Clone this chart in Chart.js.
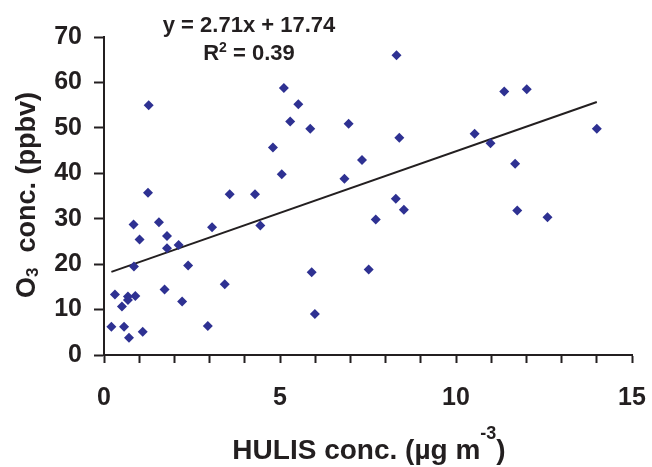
<!DOCTYPE html>
<html>
<head>
<meta charset="utf-8">
<script src="https://cdn.jsdelivr.net/npm/chart.js@4.4.0/dist/chart.umd.min.js"></script>
<style>
  body { margin: 0; background: #fff; }
  #wrap { width: 652px; height: 467px; }
</style>
</head>
<body>
<div id="wrap"><canvas id="ozoneChart" width="652" height="467"></canvas></div>
<script>
// HULIS (ug m-3) vs O3 (ppbv)
const hulis = [
    0.21, 0.31, 0.51, 0.57, 0.68, 0.68, 0.71, 0.84, 0.85, 0.89,
    1.01, 1.10, 1.27, 1.25, 1.56, 1.72, 1.79, 1.79, 2.12, 2.22,
    2.39, 2.95, 3.07, 3.43, 3.57, 4.29, 4.44, 4.80,
    5.11, 5.52, 5.29, 5.86, 5.05, 6.95, 7.33, 6.83, 8.31, 8.39,
    8.29, 8.52, 7.72, 5.90, 7.52, 5.99,
    10.53, 10.98, 11.37, 12.01, 11.68, 11.74, 12.60, 14.00
];
const ozone = [
    6.2, 13.3, 10.7, 6.2, 12.9, 12.1, 3.8, 28.7, 19.5, 13.0,
    25.4, 5.1, 55.0, 35.7, 29.2, 14.4, 26.2, 23.5, 24.2, 11.8,
    19.7, 6.4, 28.1, 15.6, 35.4, 35.4, 28.5, 45.7,
    58.8, 55.2, 51.4, 49.8, 39.8, 50.9, 42.9, 38.8, 66.0, 47.8,
    34.4, 32.0, 29.8, 18.2, 18.8, 9.0,
    48.7, 46.6, 58.0, 58.5, 42.1, 31.8, 30.3, 49.8
];

// fit given on the chart
const slope = 2.71;
const intercept = 17.74;
const rSquared = '0.39';

const xLabelTicks = [0, 5, 10, 15];
const yLabelTicks = [0, 10, 20, 30, 40, 50, 60, 70];

const FONT = "'Liberation Sans', Arial, Helvetica, sans-serif";
const INK = '#231f20';

const points = hulis.map((x, i) => ({ x: x, y: ozone[i] }));
const xMin = Math.min(...hulis);
const xMax = Math.max(...hulis);
const trend = [xMin, xMax].map(x => ({ x: x, y: slope * x + intercept }));

// draw a run of text pieces (with sub/superscripts) centred on x
function drawParts(ctx, parts, x, y) {
    let total = 0;
    parts.forEach(p => {
        ctx.font = `bold ${p.size}px ${FONT}`;
        p.w = ctx.measureText(p.text).width;
        total += p.w;
    });
    let cx = x - total / 2;
    ctx.textAlign = 'left';
    ctx.textBaseline = 'alphabetic';
    parts.forEach(p => {
        ctx.font = `bold ${p.size}px ${FONT}`;
        ctx.fillText(p.text, cx, y + (p.dy || 0));
        cx += p.w;
    });
}

const textPlugin = {
    id: 'texts',
    afterDraw(chart) {
        const ctx = chart.ctx;
        ctx.save();
        ctx.fillStyle = INK;

        drawParts(ctx, [{ text: `y = ${slope}x + ${intercept}`, size: 22 }], 249, 32);
        drawParts(ctx, [
            { text: 'R', size: 22 },
            { text: '2', size: 14, dy: -8 },
            { text: ` = ${rSquared}`, size: 22 }
        ], 249, 60);

        drawParts(ctx, [
            { text: 'HULIS conc. (µg m', size: 28 },
            { text: '-3', size: 18, dy: -20 },
            { text: ')', size: 28 }
        ], 369, 459);

        ctx.translate(35, 195);
        ctx.rotate(-Math.PI / 2);
        drawParts(ctx, [
            { text: 'O', size: 27 },
            { text: '3', size: 17, dy: 3 },
            { text: '  conc. (ppbv)', size: 27 }
        ], 0, 0);
        ctx.restore();
    }
};

new Chart(document.getElementById('ozoneChart'), {
    type: 'scatter',
    data: {
        datasets: [
            {
                label: 'trend',
                type: 'line',
                data: trend,
                borderColor: INK,
                borderWidth: 2,
                pointRadius: 0,
                fill: false,
                order: 1
            },
            {
                label: 'O3',
                data: points,
                pointStyle: 'rectRot',
                pointRadius: 5,
                pointHoverRadius: 5,
                backgroundColor: '#2e3192',
                borderColor: '#2e3192',
                borderWidth: 0,
                order: 0
            }
        ]
    },
    options: {
        responsive: false,
        animation: false,
        events: [],
        layout: {
            padding: { left: 0, right: 0, top: 37, bottom: 0 }
        },
        plugins: {
            legend: { display: false },
            tooltip: { enabled: false }
        },
        scales: {
            x: {
                type: 'linear',
                min: 0,
                max: 15,
                afterFit: s => {
                    s.height = 112;
                    s.paddingLeft = 0;
                    s.paddingRight = 20;
                },
                border: { color: INK, width: 2 },
                grid: { drawOnChartArea: false, color: INK, tickLength: 8, tickWidth: 2 },
                ticks: {
                    stepSize: 1,
                    autoSkip: false,
                    maxRotation: 0,
                    padding: 20,
                    color: INK,
                    font: { family: FONT, size: 25, weight: 'bold' },
                    callback: v => xLabelTicks.includes(v) ? v : ''
                }
            },
            y: {
                min: 0,
                max: 70,
                afterFit: s => {
                    s.width = 104;
                    s.paddingTop = 0;
                    s.paddingBottom = 0;
                },
                border: { color: INK, width: 2 },
                grid: { drawOnChartArea: false, color: INK, tickLength: 10, tickWidth: 2 },
                ticks: {
                    stepSize: 10,
                    padding: 12,
                    color: INK,
                    font: { family: FONT, size: 25, weight: 'bold' },
                    callback: v => yLabelTicks.includes(v) ? v : ''
                }
            }
        }
    },
    plugins: [textPlugin]
});
</script>
</body>
</html>
